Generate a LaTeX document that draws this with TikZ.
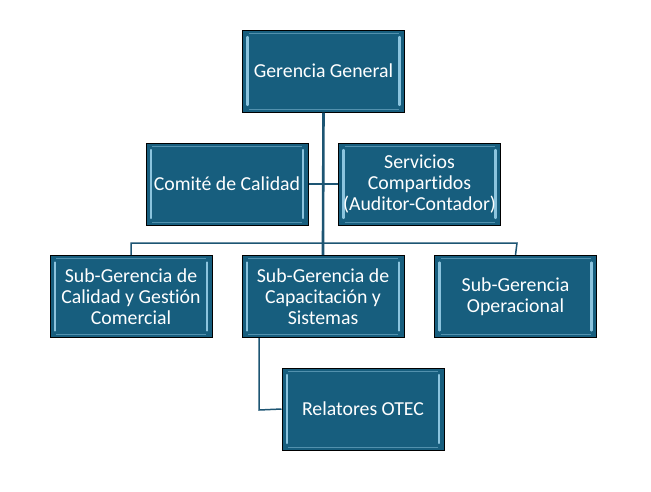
\documentclass[tikz,border=0pt]{standalone}
\usepackage{fontspec}
\setmainfont{Carlito}[Ligatures=CommonOff]
\definecolor{boxfill}{HTML}{175E7E}
\definecolor{bevel}{HTML}{8CC4DE}
\definecolor{linecol}{HTML}{1D5573}
\tikzset{
  orgbox/.style={draw=black, line width=1pt, fill=boxfill, minimum width=162pt, minimum height=82pt,
    text=white, align=center, font=\fontsize{19.8}{21}\selectfont, inner sep=2pt,
    path picture={
      \draw[bevel, line width=2.2pt, line cap=round]
        ([xshift=5pt,yshift=-7pt]path picture bounding box.north west) -- ([xshift=5pt,yshift=7pt]path picture bounding box.south west);
      \draw[bevel, line width=2.2pt, line cap=round]
        ([xshift=-5pt,yshift=-7pt]path picture bounding box.north east) -- ([xshift=-5pt,yshift=7pt]path picture bounding box.south east);
      \draw[bevel!50!boxfill, line width=1pt]
        ([xshift=6pt,yshift=-3pt]path picture bounding box.north west) -- ([xshift=-6pt,yshift=-3pt]path picture bounding box.north east);
      \draw[bevel!50!boxfill, line width=1pt]
        ([xshift=6pt,yshift=3pt]path picture bounding box.south west) -- ([xshift=-6pt,yshift=3pt]path picture bounding box.south east);
    }},
  trunk/.style={draw=linecol, line width=2.6pt},
  conn/.style={draw=linecol, line width=1.5pt}
}
\begin{document}
\begin{tikzpicture}[x=1pt,y=-1pt]
\useasboundingbox (0,0) rectangle (651,491);
\node[orgbox] (gg) at (323.5,71) {Gerencia General};
\node[orgbox] (cc) at (227,184) {Comité de Calidad};
\node[orgbox] (sc) at (419.5,184) {Servicios\\Compartidos\\(Auditor-Contador)};
\node[orgbox] (s1) at (131,296.5) {Sub-Gerencia de\\Calidad y Gestión\\Comercial};
\node[orgbox] (s2) at (323,296.5) {Sub-Gerencia de\\Capacitación y\\Sistemas};
\node[orgbox] (s3) at (515.5,296.5) {Sub-Gerencia\\Operacional};
\node[orgbox] (ot) at (363,409) {Relatores OTEC};
\coordinate (busL) at (131,243);
\coordinate (busR) at (517,243);
\coordinate (busC) at (323,243);
\coordinate (otc) at (259,410);
\begin{scope}[on background layer/.try]
\draw[conn] (cc.east) -- (sc.west);
\draw[conn] (s1.north) -- (busL) -- (busR) -- (s3.north);
\draw[trunk] (gg.south) -- (busC) -- (s2.north);
\draw[conn] (s2.south -| otc) -- (otc) -- (ot.west);
\end{scope}
\end{tikzpicture}
\end{document}
